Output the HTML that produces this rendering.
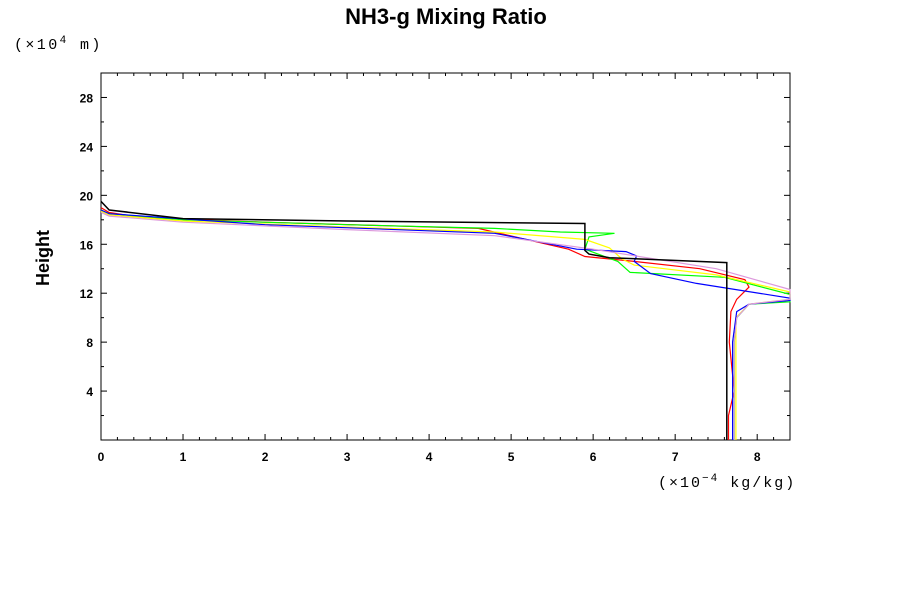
<!DOCTYPE html>
<html><head><meta charset="utf-8"><style>
body{margin:0;background:#fff;font-family:"Liberation Sans",sans-serif}
</style></head><body>
<svg id="chart" width="900" height="600" xmlns="http://www.w3.org/2000/svg">
<text x="446" y="24" text-anchor="middle" font-size="22" font-weight="bold">NH3-g Mixing Ratio</text>
<text x="14" y="49" font-size="15" font-family="Liberation Mono, monospace" letter-spacing="2.4">(×10<tspan dy="-6" font-size="11">4</tspan><tspan dy="6"> m)</tspan></text>
<text x="658" y="487" font-size="15" font-family="Liberation Mono, monospace" letter-spacing="2">(×10<tspan dy="-6" font-size="11">−4</tspan><tspan dy="6"> kg/kg)</tspan></text>
<text transform="translate(49,258) rotate(-90)" text-anchor="middle" font-size="18" font-weight="bold">Height</text>
<g id="axes"></g>
<g id="series"></g>
</svg>
<script>
const xTicks=[0,1,2,3,4,5,6,7,8];
const yTicks=[4,8,12,16,20,24,28];
const seriesColors=["red","#00ff00","yellow","blue","#dd99dd","black"];
const redX=[0,0.1,0.5,2,4.6,5.7,5.9,6.5,7.3,7.85,7.9,7.75,7.68,7.66,7.72,7.65,7.65];
const redY=[19,18.6,18.2,17.8,17.3,15.6,15,14.6,14,13.1,12.5,11.5,10.5,8,4,2,0];
const greenX=[0,0.1,1,3,4.8,5.6,6.26,5.95,5.9,6.3,6.45,7.6,8.4,8.4,7.9,7.75,7.72,7.72];
const greenY=[18.8,18.5,18,17.6,17.3,17,16.9,16.6,15.6,14.6,13.7,13.3,11.9,11.3,11.1,10,8,0];
const yellowX=[0,0.1,1,3,4.8,5.9,6.2,6.35,6.5,7.5,8.4,8.4,7.9,7.74,7.74];
const yellowY=[18.7,18.4,17.9,17.4,17.0,16.4,15.7,14.8,14.3,13.5,12.1,11.5,11.1,10,0];
const blueX=[0,0.1,2,4.8,5.8,6.4,6.53,6.5,6.7,7.26,8.4,8.4,7.9,7.75,7.7,7.7];
const blueY=[18.8,18.5,17.6,16.9,15.6,15.4,15.05,14.6,13.6,12.8,11.6,11.4,11.1,10.5,8,0];
const violetX=[0,0.1,1,3,4.8,6,7.5,8.4,8.4,7.9,7.75,7.72,7.72];
const violetY=[18.6,18.3,17.8,17.2,16.7,15.6,14,12.3,11.5,11.1,10,8,0];
const blackX=[0,0.1,1,3,5.9,5.9,5.95,6.2,7.63,7.63,7.63];
const blackY=[19.5,18.8,18.1,17.9,17.7,15.5,15.2,14.9,14.5,14.5,0];
const ns="http://www.w3.org/2000/svg";
const L=101,R=790,T=73,B=440,XMAX=8.4,YMAX=30;
const sx=v=>L+v/XMAX*(R-L), sy=v=>B-v/YMAX*(B-T);
const axes=document.getElementById('axes');
function mk(t,a,p){const e=document.createElementNS(ns,t);for(const k in a)e.setAttribute(k,a[k]);p.appendChild(e);return e;}
const frame=mk('rect',{x:L,y:T,width:R-L,height:B-T,fill:'none',stroke:'#000','stroke-width':1},axes);


for(let v=0;v<=8.4001;v+=0.2){const x=sx(v),len=Math.abs(v-Math.round(v))<1e-6?6:3;
 mk('line',{x1:x,y1:B,x2:x,y2:B-len,stroke:'#000'},axes);mk('line',{x1:x,y1:T,x2:x,y2:T+len,stroke:'#000'},axes);}
for(let v=0;v<=30;v+=2){const y=sy(v),len=v%4==0?6:3;
 mk('line',{x1:L,y1:y,x2:L+len,y2:y,stroke:'#000'},axes);mk('line',{x1:R,y1:y,x2:R-len,y2:y,stroke:'#000'},axes);}
xTicks.forEach(v=>{const t=mk('text',{x:sx(v),y:B+21,'text-anchor':'middle','font-size':12,'font-weight':'bold'},axes);t.textContent=v;
 
 });
yTicks.forEach(v=>{const t=mk('text',{x:L-8,y:sy(v)+5,'text-anchor':'end','font-size':12,'font-weight':'bold'},axes);t.textContent=v;
 
 });
const sg=document.getElementById('series');
const all=[[redX,redY],[greenX,greenY],[yellowX,yellowY],[blueX,blueY],[violetX,violetY],[blackX,blackY]];
const names=['series-red','series-green','series-yellow','series-blue','series-violet','series-black'];
all.forEach((s,i)=>{const pts=s[0].map((x,j)=>sx(x).toFixed(1)+','+sy(s[1][j]).toFixed(1)).join(' ');
 const p=mk('polyline',{points:pts,fill:'none',stroke:seriesColors[i],'stroke-width':i==5?1.5:1.2},sg);
 
 });
</script>
</body></html>
